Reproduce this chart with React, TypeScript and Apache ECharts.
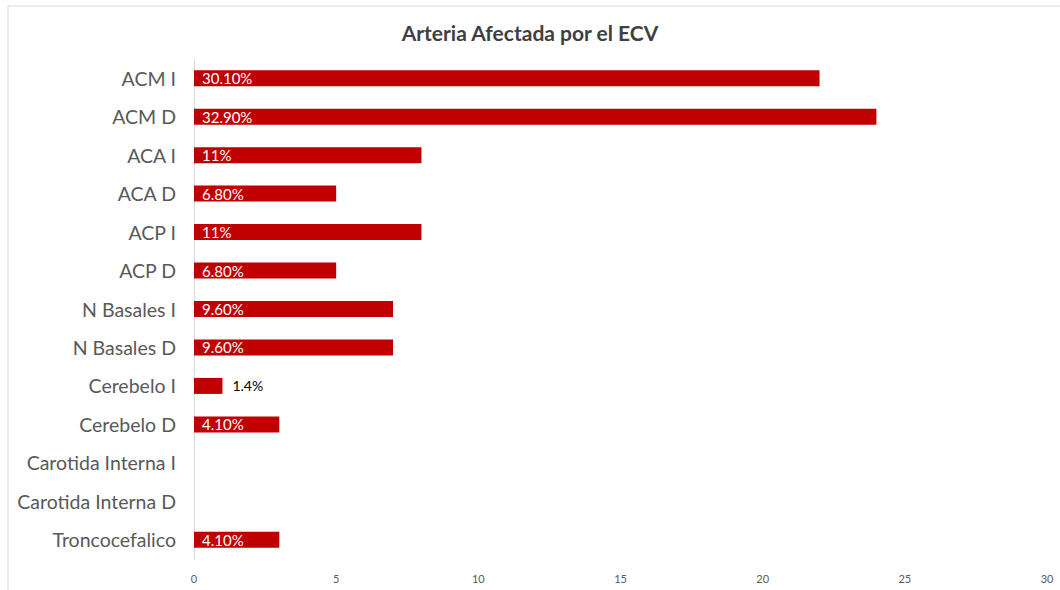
import React, { useEffect, useRef } from "react";
import * as echarts from "echarts";

const categories = [
  "ACM I", "ACM D", "ACA I", "ACA D", "ACP I", "ACP D", "N Basales I", "N Basales D",
  "Cerebelo I", "Cerebelo D", "Carotida Interna I", "Carotida Interna D", "Troncocefalico",
];
const values = [22, 24, 8, 5, 8, 5, 7, 7, 1, 3, 0, 0, 3];
const percentLabels = [
  "30.10%", "32.90%", "11%", "6.80%", "11%", "6.80%", "9.60%", "9.60%",
  "1.4%", "4.10%", "", "", "4.10%",
];
const outsideLabel = [false, false, false, false, false, false, false, false, true, false, false, false, false];
const xTicks = [0, 5, 10, 15, 20, 25, 30];

export default function App() {
  const ref = useRef<HTMLDivElement>(null);
  useEffect(() => {
    if (!ref.current) return;
    const chart = echarts.init(ref.current, null, { renderer: "svg" });
    const font = "Lato, 'Open Sans', sans-serif";
    chart.setOption({
      animation: false,
      backgroundColor: "#ffffff",
      title: {
        text: "Arteria Afectada por el ECV",
        left: "center",
        top: 17,
        textStyle: { fontFamily: font, fontSize: 21, fontWeight: "bold", color: "#404040" },
      },
      graphic: [
        {
          type: "rect",
          shape: { x: 8, y: 6, width: 1070, height: 600 },
          style: { fill: "none", stroke: "#d9d9d9", lineWidth: 1 },
          silent: true,
        },
      ],
      grid: { left: 194, right: 13, top: 59, bottom: 31, containLabel: false },
      xAxis: {
        type: "value",
        min: xTicks[0],
        max: xTicks[xTicks.length - 1],
        interval: 5,
        splitLine: { show: false },
        axisLine: { show: false },
        axisTick: { show: false },
        axisLabel: { color: "#595959", fontSize: 11, fontFamily: font, margin: 14 },
      },
      yAxis: {
        type: "category",
        data: categories,
        inverse: true,
        axisLine: { show: true, lineStyle: { color: "#d9d9d9", width: 1 } },
        axisTick: { show: false },
        axisLabel: { color: "#595959", fontSize: 19.5, fontFamily: font, margin: 18 },
      },
      series: [
        {
          type: "bar",
          barWidth: 16,
          itemStyle: { color: "#c00000" },
          data: values.map((v, i) => ({
            value: v,
            label: outsideLabel[i]
              ? { show: true, position: "right", color: "#000000", distance: 10, fontSize: 14 }
              : { show: percentLabels[i] !== "", position: "insideLeft", color: "#ffffff", distance: 8, fontSize: 15 },
          })),
          label: {
            fontFamily: font,
            formatter: (p: any) => percentLabels[p.dataIndex],
          },
        },
      ],
    });
    return () => chart.dispose();
  }, []);
  return (
    <div
      ref={ref}
      style={{ position: "fixed", left: 0, top: 0, width: 1060, height: 590 }}
    />
  );
}
